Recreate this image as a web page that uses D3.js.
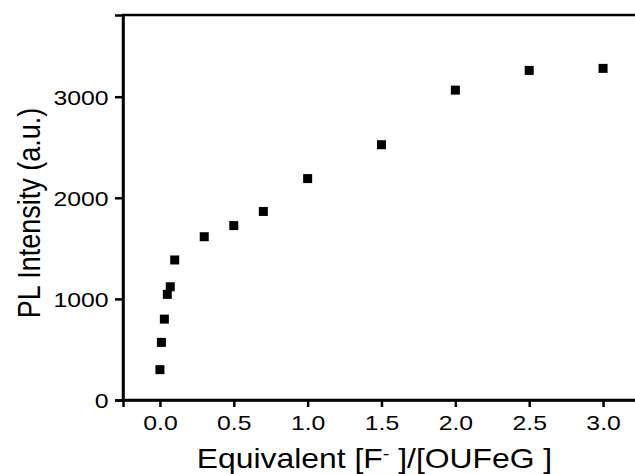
<!DOCTYPE html>
<html>
<head>
<meta charset="utf-8">
<script src="https://d3js.org/d3.v7.min.js"></script>
<style>
  body { margin: 0; background: #fff; }
  text { font-family: "Liberation Sans", Arial, sans-serif; fill: #000; }
</style>
</head>
<body>
<div id="chart"></div>
<script>
// data
var equivalents = [0, 0.01, 0.03, 0.05, 0.07, 0.1, 0.3, 0.5, 0.7, 1.0, 1.5, 2.0, 2.5, 3.0];
var intensity = [300, 570, 800, 1045, 1120, 1385, 1615, 1725, 1865, 2190, 2525, 3065, 3260, 3280];
var xTicks = [0, 0.5, 1.0, 1.5, 2.0, 2.5, 3.0];
var yTicks = [0, 1000, 2000, 3000];

var W = 635, H = 474;
var margin = { top: 15, right: -5, bottom: 74, left: 123 },
    width = W - margin.left - margin.right,
    height = H - margin.top - margin.bottom;
var stretch = 1.18; // text in the original is a bit wide

var svg = d3.select("#chart")
    .append("svg")
    .attr("width", W)
    .attr("height", H)
    .append("g")
    .attr("transform", "translate(" + margin.left + "," + margin.top + ")");

// widen glyphs by stretching the text length
function widen(sel) {
    sel.each(function () {
        var len = this.getComputedTextLength();
        d3.select(this)
            .attr("textLength", len * stretch)
            .attr("lengthAdjust", "spacingAndGlyphs");
    });
}

// scales
var x = d3.scaleLinear()
    .domain([-0.25, 3.25])
    .range([0, width]);
var y = d3.scaleLinear()
    .domain([0, 3808])
    .range([height, 0]);

// frame
svg.append("rect")
    .attr("x", 0).attr("y", 0)
    .attr("width", width).attr("height", height)
    .attr("fill", "none")
    .attr("stroke", "#000")
    .attr("stroke-width", 2.5);

// x axis
var gx = svg.append("g")
    .attr("transform", "translate(0," + height + ")")
    .call(d3.axisBottom(x).tickValues(xTicks).tickFormat(d3.format(".1f")).tickSize(7));
gx.attr("font-size", 21).attr("font-family", null);
gx.select(".domain").attr("stroke-width", 2.5);
gx.selectAll(".tick line").attr("stroke-width", 2.5);
gx.selectAll(".tick text")
    .attr("y", 30).attr("dy", 0)
    .call(widen);

// y axis
var gy = svg.append("g")
    .call(d3.axisLeft(y).tickValues(yTicks).tickFormat(d3.format("d")).tickSize(8));
gy.attr("font-size", 21).attr("font-family", null);
gy.select(".domain").attr("stroke-width", 2.5);
gy.selectAll(".tick line").attr("stroke-width", 2.5);
gy.selectAll(".tick text")
    .attr("x", -14.5).attr("dy", "0.36em")
    .call(widen);

// square markers
var s = 9;
svg.selectAll("rect.pt")
    .data(equivalents)
    .enter()
    .append("rect")
    .attr("class", "pt")
    .attr("x", function (d) { return x(d) - s / 2 })
    .attr("y", function (d, i) { return y(intensity[i]) - s / 2 })
    .attr("width", s)
    .attr("height", s)
    .attr("fill", "#000");

// axis titles
var xt = svg.append("text")
    .attr("transform", "translate(251.5," + (height + 68) + ") scale(" + stretch + ",1)")
    .attr("text-anchor", "middle")
    .attr("font-size", 27);
xt.append("tspan").text("Equivalent [F");
xt.append("tspan").attr("baseline-shift", "super").attr("font-size", 17).text("-");
xt.append("tspan").text(" ]/[OUFeG ]");

svg.append("text")
    .attr("transform", "translate(-83,198) scale(" + stretch + ",1) rotate(-90)")
    .attr("text-anchor", "middle")
    .attr("font-size", 27)
    .text("PL Intensity (a.u.)");
</script>
</body>
</html>
